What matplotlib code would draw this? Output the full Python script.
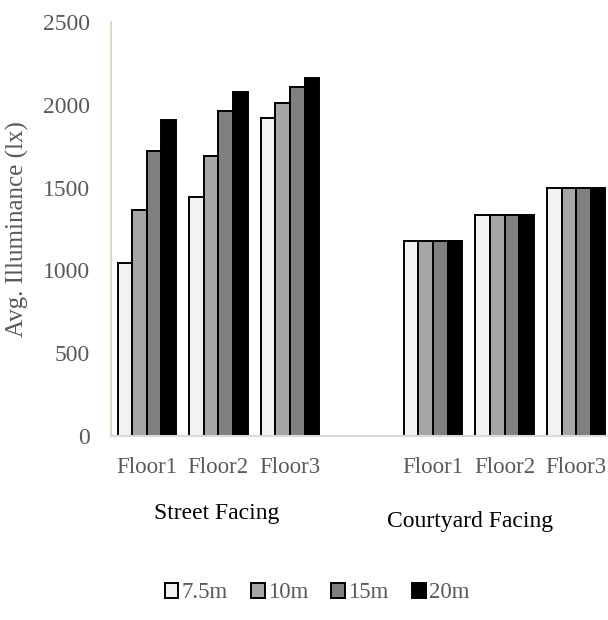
import matplotlib
matplotlib.use('Agg')
import matplotlib.pyplot as plt
from matplotlib.patches import Patch
import numpy as np

# average illuminance per floor, street side then courtyard side
floors = ['Floor1', 'Floor2', 'Floor3']
spacings = ['7.5m', '10m', '15m', '20m']
street = {
    '7.5m': [1045, 1445, 1920],
    '10m': [1365, 1690, 2010],
    '15m': [1720, 1960, 2105],
    '20m': [1910, 2075, 2160],
}
courtyard = {
    '7.5m': [1175, 1335, 1500],
    '10m': [1175, 1335, 1500],
    '15m': [1175, 1335, 1500],
    '20m': [1175, 1335, 1500],
}
fills = ['#F2F2F2', '#A6A6A6', '#808080', '#000000']

plt.rcParams['font.family'] = ['Liberation Serif']
grey = '#595959'

fig = plt.figure(figsize=(6.08, 6.2), dpi=100)
ax = fig.add_axes([111 / 608, 184 / 620, 501 / 608, 414 / 620])

# street groups sit at 0..2, an empty slot at 3, courtyard at 4..6
x_street = np.arange(3)
x_court = np.arange(3) + 4
w = 0.815 / 4
for i, sp in enumerate(spacings):
    off = (i - 1.5) * w
    ax.bar(x_street + off, street[sp], w, color=fills[i], edgecolor='black', linewidth=1.4)
    ax.bar(x_court + off, courtyard[sp], w, color=fills[i], edgecolor='black', linewidth=1.4)

ax.set_xlim(-0.5, 6.5)
ax.set_ylim(0, 2500)
ax.set_yticks(range(0, 2501, 500))
ax.set_xticks(list(x_street) + list(x_court))
ax.set_xticklabels(floors + floors)
ax.tick_params(axis='y', length=0, pad=15, labelsize=17, labelcolor=grey)
ax.tick_params(axis='x', length=0, pad=15, labelsize=16.5, labelcolor=grey)

for s in ['top', 'right']:
    ax.spines[s].set_visible(False)
ax.spines['left'].set_color('#DDD9C4')
ax.spines['left'].set_linewidth(1.5)
ax.spines['bottom'].set_color('#D9D9D9')
ax.spines['bottom'].set_linewidth(1.5)

ax.set_ylabel('Avg. Illuminance (lx)', fontsize=18, color=grey, labelpad=10)

fig.text(217 / 608, 1 - 513 / 620, 'Street Facing', ha='center', va='center', fontsize=17)
fig.text(470 / 608, 1 - 521 / 620, 'Courtyard Facing', ha='center', va='center', fontsize=17)

handles = [Patch(facecolor=fills[i], edgecolor='black', linewidth=1.4, label=sp)
           for i, sp in enumerate(spacings)]
leg = fig.legend(handles=handles, loc='center', bbox_to_anchor=(317 / 608, 1 - 593 / 620),
                 ncol=4, frameon=False, fontsize=16.5, handlelength=0.6, handleheight=0.6,
                 handletextpad=0.15, columnspacing=1.0)
for t in leg.get_texts():
    t.set_color(grey)

fig.savefig('out.png', dpi=100)
